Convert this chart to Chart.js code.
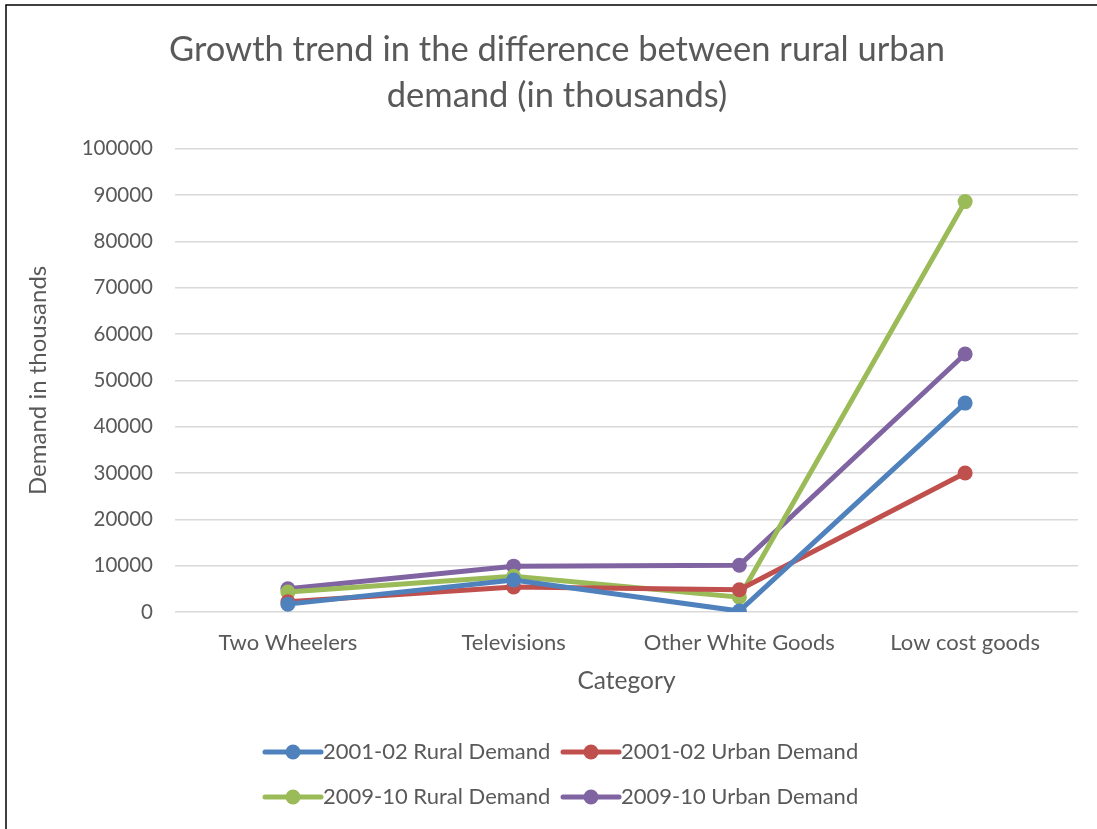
<!DOCTYPE html>
<html>
<head>
<meta charset="utf-8">
<script src="https://cdn.jsdelivr.net/npm/chart.js@4.4.1/dist/chart.umd.min.js"></script>
<style>
html,body{margin:0;padding:0;background:#fff;}
#wrap{width:1097px;height:829px;position:relative;}
</style>
</head>
<body>
<div id="wrap"><canvas id="c" width="1097" height="829"></canvas></div>
<script>
const categories = ['Two Wheelers', 'Televisions', 'Other White Goods', 'Low cost goods'];
const rural0102 = [1700, 6900, 200, 45100];
const urban0102 = [2200, 5400, 4800, 30000];
const rural0910 = [4300, 7700, 3200, 88600];
const urban0910 = [5000, 9900, 10100, 55700];
const seriesNames = ['2001-02 Rural Demand', '2001-02 Urban Demand', '2009-10 Rural Demand', '2009-10 Urban Demand'];
const seriesColors = ['#4f81bd', '#c0504d', '#9bbb59', '#8064a2'];
const yTicks = [0, 10000, 20000, 30000, 40000, 50000, 60000, 70000, 80000, 90000, 100000];

const FONT = 'Lato, "Open Sans", sans-serif';
const TXT = '#595959';

function ds(i, data) {
  return {
    label: seriesNames[i], data: data, yAxisID: 'y',
    borderColor: seriesColors[i], backgroundColor: seriesColors[i],
    borderWidth: 5, pointRadius: 7.5, pointHoverRadius: 7.5,
    pointBackgroundColor: seriesColors[i], pointBorderColor: seriesColors[i], pointBorderWidth: 0,
    tension: 0
  };
}

const frame = {
  id: 'frame',
  beforeDraw(chart) {
    const c = chart.ctx;
    c.save();
    c.fillStyle = '#fff';
    c.fillRect(0, 0, chart.width, chart.height);
    c.strokeStyle = '#000';
    c.lineWidth = 1.5;
    c.beginPath();
    c.moveTo(6, chart.height + 2);
    c.lineTo(6, 5);
    c.lineTo(chart.width + 2, 5);
    c.stroke();
    c.restore();
  }
};

const legend2 = {
  id: 'legend2',
  afterDraw(chart) {
    const c = chart.ctx;
    const cols = [265, 563], rows = [752, 797];
    c.save();
    c.font = '22px ' + FONT;
    c.textBaseline = 'middle';
    c.textAlign = 'left';
    chart.data.datasets.forEach((d, i) => {
      const x = cols[i % 2], y = rows[Math.floor(i / 2)];
      c.strokeStyle = d.borderColor; c.lineWidth = 5; c.lineCap = 'round';
      c.beginPath(); c.moveTo(x, y); c.lineTo(x + 56, y); c.stroke();
      c.fillStyle = d.borderColor;
      c.beginPath(); c.arc(x + 28, y, 7.5, 0, Math.PI * 2); c.fill();
      c.fillStyle = TXT;
      c.fillText(d.label, x + 58, y);
    });
    c.restore();
  }
};

new Chart(document.getElementById('c'), {
  type: 'line',
  data: {
    labels: categories,
    datasets: [ds(0, rural0102), ds(1, urban0102), ds(2, rural0910), ds(3, urban0910)]
  },
  options: {
    responsive: false,
    animation: false,
    events: [],
    layout: { padding: { left: 17, right: 0, top: 5, bottom: 133 } },
    plugins: {
      legend: { display: false },
      tooltip: { enabled: false },
      title: {
        display: true,
        text: ['Growth trend in the difference between rural urban', 'demand (in thousands)'],
        color: TXT,
        font: { family: FONT, size: 34.5, weight: 'normal', lineHeight: 1.33 },
        padding: { top: 22, bottom: 30 }
      }
    },
    scales: {
      x: {
        offset: true,
        grid: { display: false, drawTicks: false },
        border: { display: false },
        ticks: { color: TXT, font: { family: FONT, size: 22 }, padding: 18, maxRotation: 0 },
        title: { display: true, text: 'Category', color: TXT, font: { family: FONT, size: 24.5 }, padding: { top: 12, bottom: 0 } },
        afterFit(s) { s.height = 84; }
      },
      y: {
        min: 0, max: 100000,
        afterBuildTicks(s) { s.ticks = yTicks.map(v => ({ value: v })); },
        grid: { color: '#d9d9d9', lineWidth: 1.5, drawTicks: false },
        border: { display: false },
        ticks: { color: TXT, font: { family: FONT, size: 20.5 }, padding: 22, callback: v => String(v) },
        title: { display: true, text: 'Demand in thousands', color: TXT, font: { family: FONT, size: 24 }, padding: { top: 7, bottom: 0 } },
        afterFit(s) { s.width = 158; }
      },
      yr: {
        position: 'right',
        display: true,
        min: 0, max: 100000,
        grid: { display: false, drawTicks: false },
        border: { display: false },
        ticks: { display: false },
        afterFit(s) { s.width = 19; }
      }
    }
  },
  plugins: [frame, legend2]
});
</script>
</body>
</html>
